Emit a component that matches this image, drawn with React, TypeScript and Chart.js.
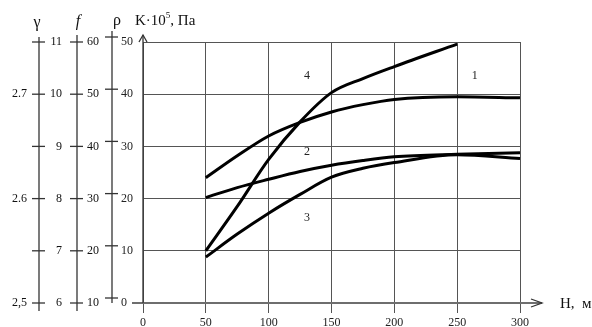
import React, { useEffect, useRef } from 'react';
import { Chart, registerables } from 'chart.js';
Chart.register(...registerables);

// ---- data (H in m, K·10^5 Pa) ----
const H = [50, 75, 100, 125, 150, 175, 200, 250, 300];
const curve1 = [24, 28.2, 32, 34.6, 36.6, 38, 39, 39.5, 39.3];
const curve2 = [20.2, 22.1, 23.7, 25.2, 26.4, 27.3, 28, 28.5, 28.8];
const curve3 = [8.8, 13.2, 17.2, 20.8, 24.1, 25.8, 26.9, 28.4, 27.7];
const H4 = [50, 75, 100, 125, 150, 175, 200, 250];
const curve4 = [10, 18.5, 27.5, 34.7, 40.3, 43, 45.3, 49.6];

// curve tags (text, H, K)
const tagText = ['4', '1', '2', '3'];
const tagH = [130.5, 264, 130.5, 130.5];
const tagK = [43.5, 43.5, 29, 16.4];

// auxiliary scales (values at K = 0,10,...,50)
const kLevels = [0, 10, 20, 30, 40, 50];
const gammaLabels = ['2,5', '', '2.6', '', '2.7', ''];
const fLabels = ['6', '7', '8', '9', '10', '11'];
const rhoLabels = ['10', '20', '30', '40', '50', '60'];

const SERIF = '"Liberation Serif", "Times New Roman", serif';

const toPts = (xs: number[], ys: number[]) => xs.map((x, i) => ({ x, y: ys[i] }));

const decor = {
  id: 'decor',
  beforeDatasetsDraw(chart: any) {
    const ctx = chart.ctx as CanvasRenderingContext2D;
    const xs = chart.scales.x;
    const ys = chart.scales.y;
    const x0 = xs.getPixelForValue(0);
    const y0 = ys.getPixelForValue(0);
    const yTop = ys.getPixelForValue(50);
    const line = (a: number, b: number, c: number, d: number) => {
      ctx.beginPath();
      ctx.moveTo(a, b);
      ctx.lineTo(c, d);
      ctx.stroke();
    };
    ctx.save();
    // horizontal axis
    ctx.strokeStyle = '#6e6e6e';
    ctx.lineWidth = 2;
    const tipX = xs.right + 22;
    line(x0 - 11, y0, tipX, y0);
    ctx.strokeStyle = '#333';
    ctx.lineWidth = 1.3;
    ctx.beginPath();
    ctx.moveTo(tipX - 11, y0 - 4);
    ctx.lineTo(tipX, y0);
    ctx.lineTo(tipX - 11, y0 + 4);
    ctx.stroke();
    // vertical axis
    ctx.strokeStyle = '#333';
    ctx.lineWidth = 1.3;
    const tipY = yTop - 7;
    line(x0, y0, x0, tipY);
    ctx.beginPath();
    ctx.moveTo(x0 - 4, yTop);
    ctx.lineTo(x0, tipY);
    ctx.lineTo(x0 + 4, yTop);
    ctx.stroke();

    // axis titles
    ctx.fillStyle = '#111';
    ctx.textBaseline = 'alphabetic';
    ctx.textAlign = 'left';
    ctx.font = `15px ${SERIF}`;
    let tx = 135;
    ctx.fillText('K·10', tx, 25);
    tx += ctx.measureText('K·10').width;
    ctx.font = `9px ${SERIF}`;
    ctx.fillText('5', tx, 18);
    tx += ctx.measureText('5').width;
    ctx.font = `15px ${SERIF}`;
    ctx.fillText(', Па', tx, 25);
    ctx.fillText('H,  м', 560, 308);

    // left auxiliary axes
    ctx.strokeStyle = '#333';
    ctx.lineWidth = 1.3;
    line(39, 37, 39, 311);
    line(77, 35, 77, 311);
    line(112, 31, 112, 303);
    ctx.font = `12px ${SERIF}`;
    ctx.textBaseline = 'middle';
    ctx.textAlign = 'right';
    kLevels.forEach((k, i) => {
      const py = ys.getPixelForValue(k);
      line(32, py, 45, py);
      line(70, py, 83, py);
      line(105, py - 5, 118, py - 5);
      if (gammaLabels[i]) ctx.fillText(gammaLabels[i], 27, py);
      ctx.fillText(fLabels[i], 62, py);
      ctx.fillText(rhoLabels[i], 99, py);
    });
    ctx.textAlign = 'center';
    ctx.textBaseline = 'alphabetic';
    ctx.font = `16px ${SERIF}`;
    ctx.fillText('γ', 37, 27);
    ctx.fillText('ρ', 117, 25);
    ctx.font = `italic 16px ${SERIF}`;
    ctx.fillText('f', 78, 26);

    // curve tags
    ctx.font = `12px ${SERIF}`;
    ctx.textBaseline = 'middle';
    ctx.fillStyle = '#222';
    tagText.forEach((t, i) => {
      ctx.fillText(t, xs.getPixelForValue(tagH[i]), ys.getPixelForValue(tagK[i]));
    });
    ctx.restore();
  },
};

export default function App() {
  const ref = useRef<HTMLCanvasElement | null>(null);
  useEffect(() => {
    if (!ref.current) return;
    const ds = (data: any[]) => ({
      data,
      borderColor: '#000',
      borderWidth: 3,
      pointRadius: 0,
      fill: false,
      cubicInterpolationMode: 'monotone' as const,
      clip: false as any,
    });
    const chart = new Chart(ref.current, {
      type: 'line',
      data: {
        datasets: [
          ds(toPts(H, curve1)),
          ds(toPts(H, curve2)),
          ds(toPts(H, curve3)),
          ds(toPts(H4, curve4)),
        ],
      },
      options: {
        animation: false,
        responsive: false,
        devicePixelRatio: 1,
        layout: { padding: { left: 113, right: 72, top: 42, bottom: 0 } },
        plugins: { legend: { display: false }, tooltip: { enabled: false } },
        scales: {
          x: {
            type: 'linear',
            min: 0,
            max: 300,
            border: { display: false },
            grid: { color: '#555', lineWidth: 1, drawTicks: true, tickLength: 10 },
            ticks: { stepSize: 50, color: '#222', font: { family: SERIF, size: 12 }, padding: 3, maxRotation: 0 },
            afterFit: (s: any) => { s.height = 24; },
          },
          y: {
            type: 'linear',
            min: 0,
            max: 50,
            border: { display: false },
            grid: { color: '#555', lineWidth: 1, drawTicks: false },
            ticks: {
              stepSize: 10,
              color: '#222',
              font: { family: SERIF, size: 12 },
              padding: 10,
              callback: (v: any) => (Number(v) === 0 ? '0  ' : String(v)),
            },
            afterFit: (s: any) => { s.width = 30; },
          },
        },
      },
      plugins: [decor],
    });
    return () => chart.destroy();
  }, []);
  return (
    <div style={{ position: 'absolute', left: 0, top: 0, width: 592, height: 327, background: '#fff' }}>
      <canvas ref={ref} width={592} height={327} style={{ width: 592, height: 327 }} />
    </div>
  );
}
